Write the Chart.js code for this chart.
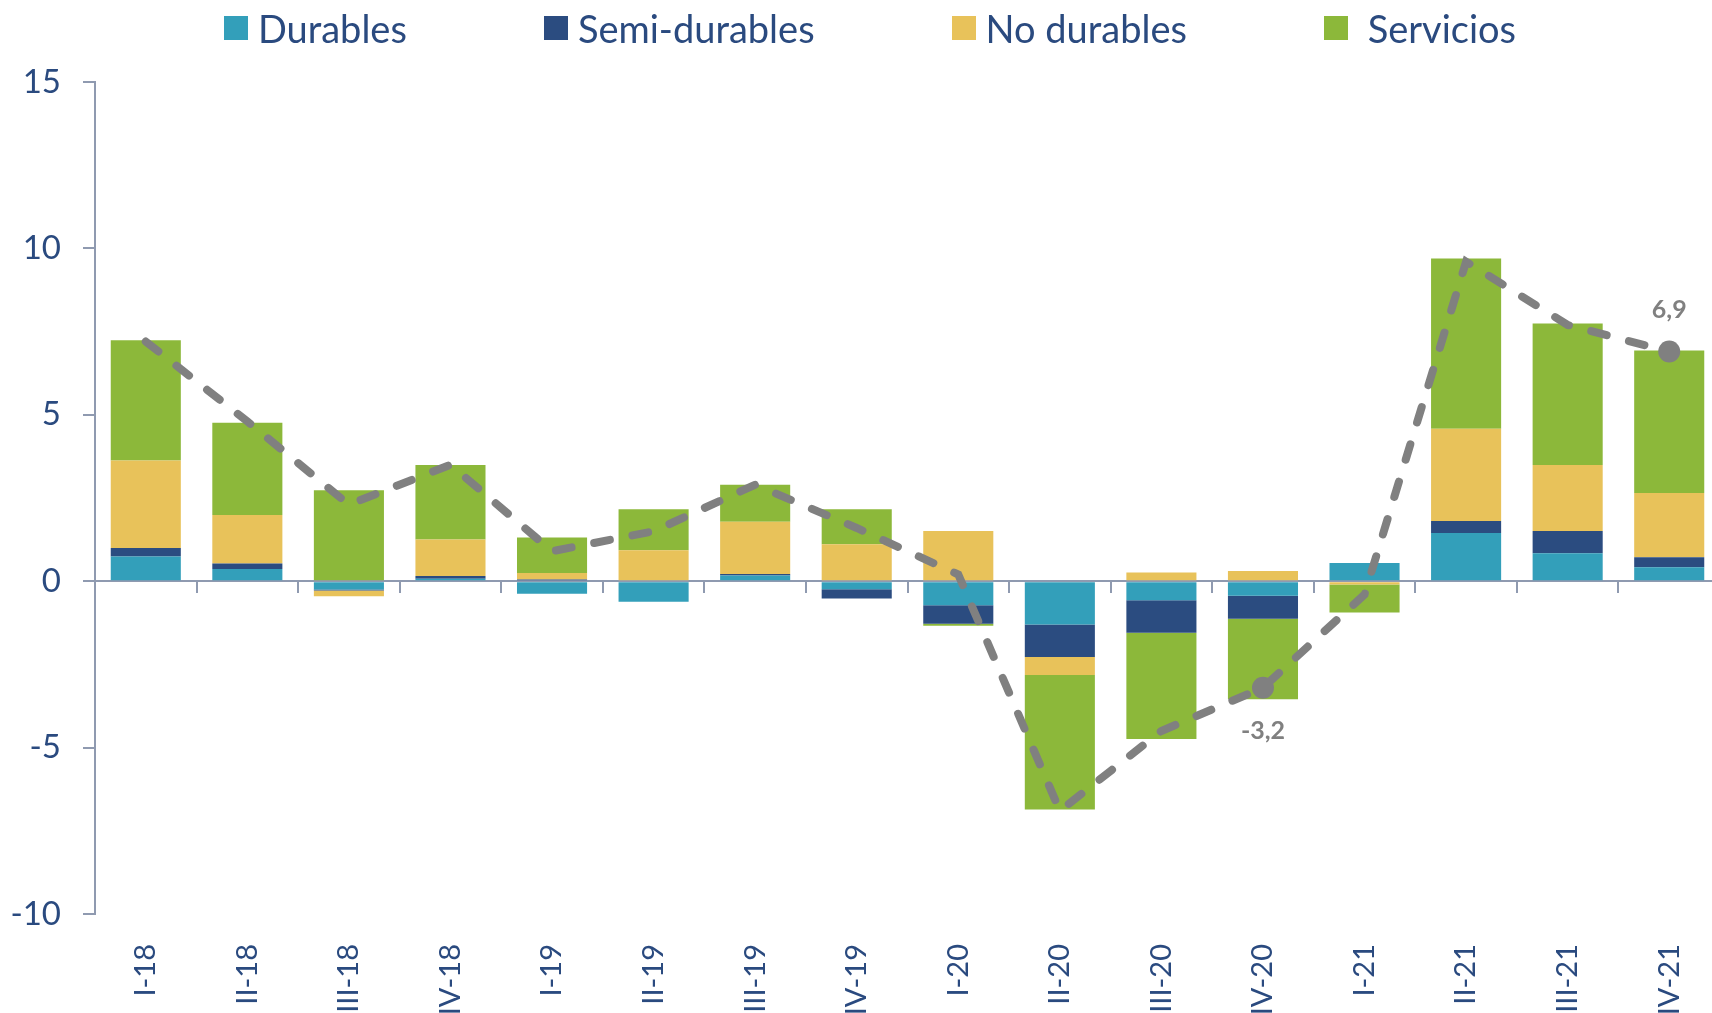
<!DOCTYPE html>
<html>
<head>
<meta charset="utf-8">
<script src="https://cdn.jsdelivr.net/npm/chart.js@4"></script>
<style>
  html, body { margin: 0; padding: 0; background: #fff; overflow: hidden; }
  #wrap { position: relative; width: 1731px; height: 1013px; }
  #legend {
    position: absolute; top: 7px; left: 0; width: 1740px;
    display: flex; justify-content: center; gap: 137px;
    font: 38px Lato, sans-serif; color: #2a4a7f; line-height: 42px;
  }
  .item { display: flex; align-items: center; white-space: pre; }
  .box { width: 24px; height: 24px; margin-right: 10px; }
</style>
</head>
<body>
<div id="wrap">
  <div id="legend"></div>
  <canvas id="chart" width="1731" height="1013"></canvas>
</div>
<script>
const quarters = ['I-18', 'II-18', 'III-18', 'IV-18', 'I-19', 'II-19', 'III-19', 'IV-19',
                  'I-20', 'II-20', 'III-20', 'IV-20', 'I-21', 'II-21', 'III-21', 'IV-21'];
const durables     = [0.74, 0.37, -0.25, 0.07, -0.38, -0.62, 0.17, -0.24, -0.72, -1.30, -0.57, -0.44, 0.55, 1.45, 0.84, 0.42];
const semiDurables = [0.26, 0.16, -0.03, 0.09, 0.05, 0, 0.05, -0.28, -0.56, -0.98, -0.98, -0.69, 0, 0.36, 0.67, 0.30];
const noDurables   = [2.63, 1.46, -0.17, 1.09, 0.20, 0.93, 1.57, 1.11, 1.51, -0.54, 0.26, 0.31, -0.10, 2.77, 1.98, 1.93];
const servicios    = [3.61, 2.77, 2.73, 2.24, 1.06, 1.23, 1.11, 1.05, -0.06, -4.04, -3.19, -2.42, -0.84, 5.12, 4.25, 4.28];
const total        = [7.2, 4.8, 2.3, 3.5, 0.9, 1.5, 2.9, 1.6, 0.2, -6.9, -4.5, -3.2, -0.4, 9.6, 7.7, 6.9];
const labelled = [11, 15]; // points with a marker and value
const yTicks = [-10, -5, 0, 5, 10, 15];

const series = [
    { name: 'Durables', data: durables, color: '#339fba' },
    { name: 'Semi-durables', data: semiDurables, color: '#2b4c80' },
    { name: 'No durables', data: noDurables, color: '#e8c25a' },
    { name: ' Servicios', data: servicios, color: '#8cb83a' }
];

const textColor = '#2a4a7f';
const axisColor = '#8f9ab0';

// html legend
const legend = document.getElementById('legend');
series.forEach(s => {
    const item = document.createElement('div');
    item.className = 'item';
    item.innerHTML = `<span class="box" style="background:${s.color}"></span><span>${s.name}</span>`;
    legend.appendChild(item);
});

const pointLabels = {
    id: 'pointLabels',
    afterDatasetsDraw(chart) {
        const meta = chart.getDatasetMeta(series.length);
        const ctx = chart.ctx;
        ctx.save();
        ctx.font = 'bold 25px Lato, sans-serif';
        ctx.fillStyle = '#808080';
        ctx.textAlign = 'center';
        ctx.textBaseline = 'middle';
        labelled.forEach(i => {
            const p = meta.data[i];
            const dy = total[i] < 0 ? 43 : -42;
            ctx.fillText(total[i].toFixed(1).replace('.', ','), p.x, p.y + dy);
        });
        ctx.restore();
    }
};

const datasets = series.map(s => ({
    type: 'bar',
    label: s.name.trim(),
    data: s.data,
    backgroundColor: s.color,
    barPercentage: 0.69,
    categoryPercentage: 1,
    order: 1
}));

datasets.push({
    type: 'line',
    label: 'Total',
    data: total,
    borderColor: '#808080',
    borderWidth: 8,
    borderDash: [16, 23],
    borderCapStyle: 'round',
    pointRadius: quarters.map((q, i) => labelled.includes(i) ? 11 : 0),
    pointBackgroundColor: '#808080',
    pointBorderWidth: 0,
    tension: 0,
    fill: false,
    stack: 'total',
    order: 0
});

new Chart(document.getElementById('chart'), {
    data: { labels: quarters, datasets: datasets },
    plugins: [pointLabels],
    options: {
        responsive: false,
        animation: false,
        layout: { padding: { top: 82, right: 0, left: 0, bottom: 0 } },
        plugins: {
            legend: { display: false },
            tooltip: { enabled: false }
        },
        scales: {
            x: {
                stacked: true,
                grid: { display: false },
                border: { display: false },
                ticks: {
                    color: textColor,
                    font: { family: 'Lato', size: 29 },
                    minRotation: 90,
                    maxRotation: 90,
                    padding: 22,
                    autoSkip: false
                },
                afterFit: scale => { scale.height = 99; }
            },
            x2: {
                type: 'category',
                position: { y: 0 },
                offset: true,
                z: 1,
                grid: { offset: true, drawOnChartArea: false, drawTicks: true, tickLength: 11, color: axisColor, lineWidth: 2 },
                border: { display: true, color: axisColor, width: 2 },
                ticks: { callback: () => '' }
            },
            y: {
                stacked: true,
                min: yTicks[0],
                max: yTicks[yTicks.length - 1],
                afterBuildTicks: scale => { scale.ticks = yTicks.map(v => ({ value: v })); },
                grid: { drawOnChartArea: false, drawTicks: true, tickLength: 12, color: axisColor, lineWidth: 2 },
                border: { display: true, color: axisColor, width: 2 },
                ticks: {
                    color: textColor,
                    font: { family: 'Lato', size: 33 },
                    padding: 22
                },
                afterFit: scale => { scale.width = 95; }
            }
        }
    }
});
</script>
</body>
</html>
